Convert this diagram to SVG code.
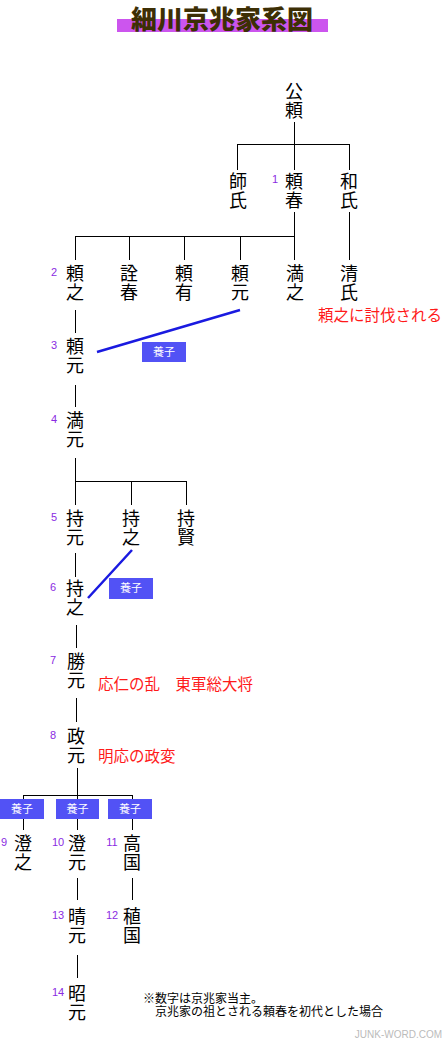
<svg xmlns="http://www.w3.org/2000/svg" width="444" height="1040" viewBox="0 0 444 1040">
<style>
.n{font-family:"Noto Sans CJK JP","Noto Sans CJK SC",sans-serif;font-size:18px;fill:#000;writing-mode:tb;letter-spacing:1px}
.num{font-family:"Liberation Sans",Arial,sans-serif;font-size:11px;fill:#8a2be2;text-anchor:middle}
.red{font-family:"Noto Sans CJK JP",sans-serif;font-size:15.5px;fill:#ff1a1a}
.ln{stroke:#000;stroke-width:1;fill:none}
.bl{stroke:#1a1ae0;stroke-width:2.5;fill:none}
.box{fill:#5252f5}
.bt{font-family:"Noto Sans CJK JP",sans-serif;font-size:11px;fill:#fff;text-anchor:middle}
.note{font-family:"Liberation Serif","Noto Sans CJK JP",serif;font-size:12px;fill:#000}
</style>
<rect width="444" height="1040" fill="#fff"/>
<g id="title">
<rect x="117" y="19" width="211" height="13" fill="#cc55ee"/>
<text x="222" y="29" font-family="Noto Sans CJK JP,sans-serif" font-size="26" font-weight="900" fill="#3d2f05" text-anchor="middle">細川京兆家系図</text>
</g>
<g id="connectors">
<path class="ln" d="M294.5 122V144M237 144.5H350M237.5 144V170M294.5 144V170M349.5 144V170"/>
<path class="ln" d="M294.5 212V236M75 236.5H295M75.5 236V260M129.5 236V260M184.5 236V260M240.5 236V260M294.5 236V260M349.5 212V260"/>
<path class="ln" d="M75.5 310V333M75.5 385V407M75.5 458V481M75 481.5H187M75.5 481V505M131.5 481V505M186.5 481V505M75.5 553V577M76.5 625V648M76.5 698V722M77.5 768V795M23 795.5H133M23.5 795V830M77.5 795V830M132.5 795V830M77.5 878V900M132.5 878V900M77.5 955V978"/>
<path class="bl" d="M240 310L97 352M132 550L88 598"/>
</g>
<g id="n-kinyori"><text class="n" x="294" y="82">公頼</text></g>
<g id="n-moroji"><text class="n" x="238" y="172">師氏</text></g>
<g id="n-yoriharu"><text class="num" x="275" y="183">1</text><text class="n" x="294" y="172">頼春</text></g>
<g id="n-kazuuji"><text class="n" x="349" y="172">和氏</text></g>
<g id="n-yoriyuki"><text class="num" x="54" y="276">2</text><text class="n" x="75" y="264">頼之</text></g>
<g id="n-akiharu"><text class="n" x="129" y="264">詮春</text></g>
<g id="n-yoriari"><text class="n" x="184" y="264">頼有</text></g>
<g id="n-yorimoto-a"><text class="n" x="240" y="264">頼元</text></g>
<g id="n-mitsuyuki"><text class="n" x="295" y="264">満之</text></g>
<g id="n-kiyouji"><text class="n" x="349" y="264">清氏</text><text class="red" x="318" y="321">頼之に討伐される</text></g>
<g id="n-yorimoto"><text class="num" x="54" y="349">3</text><text class="n" x="75" y="337">頼元</text><rect class="box" x="142" y="342" width="44" height="20"/><text class="bt" x="164" y="356">養子</text></g>
<g id="n-mitsumoto"><text class="num" x="54" y="423">4</text><text class="n" x="75" y="411">満元</text></g>
<g id="n-mochimoto"><text class="num" x="54" y="521">5</text><text class="n" x="75" y="509">持元</text></g>
<g id="n-mochiyuki-a"><text class="n" x="131" y="509">持之</text></g>
<g id="n-mochikata"><text class="n" x="186" y="509">持賢</text></g>
<g id="n-mochiyuki"><text class="num" x="53" y="591">6</text><text class="n" x="75" y="579">持之</text><rect class="box" x="109" y="578" width="44" height="21"/><text class="bt" x="131" y="592">養子</text></g>
<g id="n-katsumoto"><text class="num" x="53" y="664">7</text><text class="n" x="76" y="652">勝元</text><text class="red" x="98" y="690">応仁の乱　東軍総大将</text></g>
<g id="n-masamoto"><text class="num" x="53" y="739">8</text><text class="n" x="76" y="727">政元</text><text class="red" x="98" y="762">明応の政変</text></g>
<g id="n-sumiyuki"><rect class="box" x="0" y="799" width="44" height="20"/><text class="bt" x="22" y="813">養子</text><text class="num" x="4" y="846">9</text><text class="n" x="23" y="834">澄之</text></g>
<g id="n-sumimoto"><rect class="box" x="56" y="799" width="43" height="20"/><text class="bt" x="77.5" y="813">養子</text><text class="num" x="58" y="846">10</text><text class="n" x="77" y="834">澄元</text></g>
<g id="n-takakuni"><rect class="box" x="108" y="799" width="44" height="20"/><text class="bt" x="130" y="813">養子</text><text class="num" x="112" y="846">11</text><text class="n" x="132" y="834">高国</text></g>
<g id="n-harumoto"><text class="num" x="58" y="919">13</text><text class="n" x="77" y="907">晴元</text></g>
<g id="n-tanekuni"><text class="num" x="112" y="919">12</text><text class="n" x="132" y="907">稙国</text></g>
<g id="n-akimoto"><text class="num" x="58" y="996">14</text><text class="n" x="77" y="984">昭元</text></g>
<g id="note">
<text class="note" x="143" y="1003">※数字は京兆家当主。</text>
<text class="note" x="143" y="1016">　京兆家の祖とされる頼春を初代とした場合</text>
<text x="442" y="1038" font-family="Liberation Sans,Arial,sans-serif" font-size="10" fill="#bbbbbb" text-anchor="end">JUNK-WORD.COM</text>
</g>
</svg>
